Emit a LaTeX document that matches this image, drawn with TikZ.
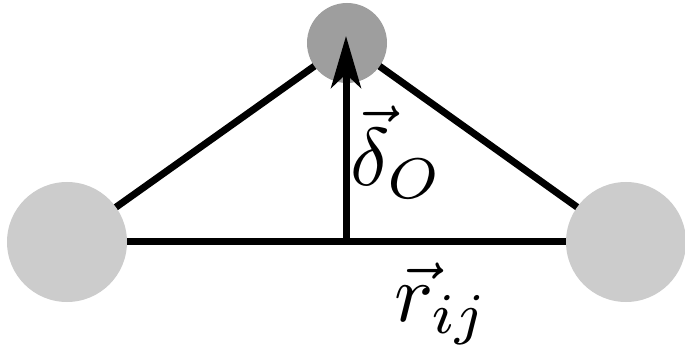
\documentclass[tikz,border=0pt]{standalone}
\usetikzlibrary{arrows.meta,backgrounds}
\definecolor{atomlight}{RGB}{204,204,204}
\definecolor{atomdark}{RGB}{158,158,158}
\tikzset{
  atom/.style={circle, inner sep=0pt, fill=atomlight, minimum size=60pt},
  oatom/.style={circle, inner sep=0pt, fill=atomdark, minimum size=40pt},
  bond/.style={line width=3.5pt},
  vecarrow/.style={line width=3.5pt, -{Stealth[length=26pt,width=15pt,inset=7pt]}},
  lbl/.style={inner sep=0pt, scale=4.1}
}
\begin{document}
\begin{tikzpicture}[x=0.5pt,y=-0.5pt]
\useasboundingbox (0,0) rectangle (685,352);
\node[atom] (L) at (67,242) {};
\node[atom] (R) at (626,242) {};
\node[oatom] (T) at (347,43) {};
\coordinate (M) at (346,242);
\coordinate (Tip) at (346,36);
\begin{scope}[on background layer]
\draw[bond] (L.center) -- (T.center);
\draw[bond] (T.center) -- (R.center);
\draw[bond] (L.center) -- (R.center);
\end{scope}
\draw[vecarrow] (M) -- (Tip);
\node[lbl] (d) at (397,152) {$\vec{\delta}_O$};
\node[lbl] (r) at (442,304) {$\vec{r}_{ij}$};
\end{tikzpicture}
\end{document}
